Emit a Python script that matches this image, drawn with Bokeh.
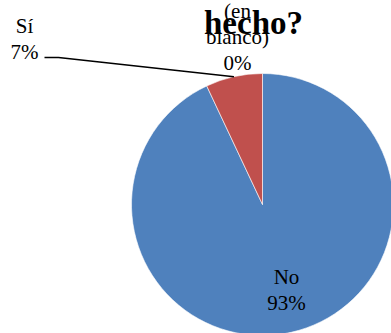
import math
from bokeh.plotting import figure
from bokeh.models import Range1d
from bokeh.core.properties import value
from bokeh.embed import file_html
from bokeh.resources import INLINE

# Survey answers and their shares (percent)
categories = ["No", "Sí", "(en blanco)"]
percents = [93, 7, 0]
display_names = ["No", "Sí", "(en\nblanco)"]
colors = ["#4F81BD", "#C0504D", "#9BBB59"]
title_tail = "hecho?"

W, H = 391, 333
FONT = "Liberation Serif"

p = figure(width=W, height=H, output_backend="svg", toolbar_location=None,
           x_range=Range1d(0, W), y_range=Range1d(0, H), min_border=0)
p.axis.visible = False
p.grid.visible = False
p.outline_line_color = None
p.background_fill_color = "white"
p.border_fill_color = "white"

# Pie geometry: slices run clockwise from 12 o'clock
cx, cy, r = 262, 129, 131
total = sum(percents)
starts, ends, mids = [], [], []
cum = 0.0
for v in percents:
    a0 = math.pi / 2 - 2 * math.pi * (cum + v) / total
    a1 = math.pi / 2 - 2 * math.pi * cum / total
    starts.append(a0)
    ends.append(a1)
    mids.append((a0 + a1) / 2)
    cum += v

# zero-share slices have no area, so only non-empty ones are drawn
keep = [i for i, v in enumerate(percents) if v > 0]
p.wedge(x=[cx] * len(keep), y=[cy] * len(keep), radius=r,
        start_angle=[starts[i] for i in keep], end_angle=[ends[i] for i in keep],
        fill_color=[colors[i] for i in keep],
        line_color="white", line_width=0.6)

# Title (last line of a longer heading)
p.text(x=[253], y=[311], text=[title_tail], text_font=value(FONT),
       text_font_size="33px", text_font_style="bold", text_align="center",
       text_baseline="alphabetic", text_color="black")

# Leader line from the "Sí" label to its slice
si = categories.index("Sí")
ex = cx + r * math.cos(mids[si])
ey = cy + r * math.sin(mids[si])
p.line(x=[44, 58, ex], y=[276, 276, ey], line_color="black", line_width=1.5)

# Data labels: name lines followed by the percentage, one baseline each
label_pos = {"No": (286, 57), "Sí": (24, 308), "(en blanco)": (237, 323)}
step = 26
lx, ly, lt = [], [], []
for name, disp, v in zip(categories, display_names, percents):
    x, y0 = label_pos[name]
    lines = disp.split("\n") + [f"{v}%"]
    for k, s in enumerate(lines):
        lx.append(x)
        ly.append(y0 - k * step)
        lt.append(s)
p.text(x=lx, y=ly, text=lt, text_font=value(FONT), text_font_size="21px",
       text_align="center", text_baseline="alphabetic", text_color="black")

open("out.html", "w").write(file_html(p, INLINE))
